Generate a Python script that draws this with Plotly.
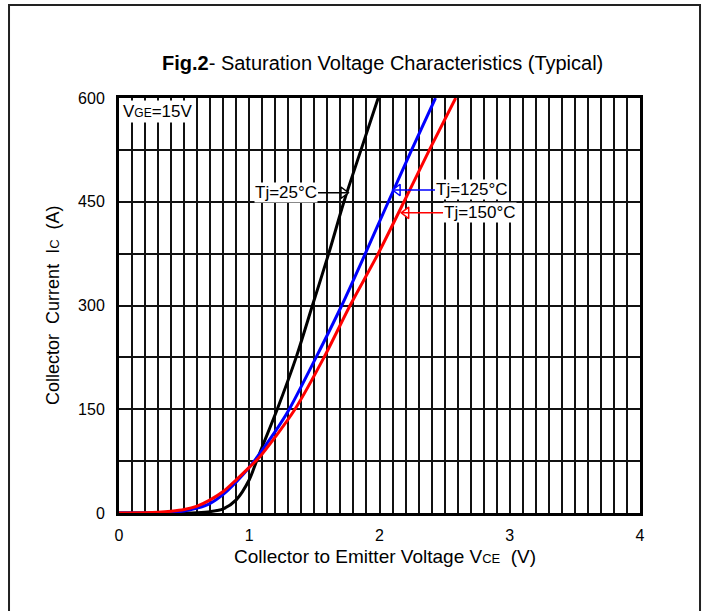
import plotly.graph_objects as go

# ---- data ----
v_25 = [0, 0.5, 0.6, 0.7, 0.8, 0.9, 1.0, 1.05, 1.1, 1.215, 1.36, 1.485, 1.61, 1.727, 1.858, 1.99]
i_25 = [0, 0, 0.5, 2, 6, 19, 48, 72, 96, 150, 225, 300, 375, 450, 525, 600]

v_125 = [0, 0.3, 0.4, 0.5, 0.6, 0.7, 0.8, 0.9, 1.0, 1.2, 1.307, 1.513, 1.71, 1.891, 2.068, 2.247, 2.43]
i_125 = [0, 0.3, 1, 3, 7, 14, 27, 45, 66, 118, 150, 225, 300, 375, 450, 525, 600]

v_150 = [0, 0.2, 0.3, 0.4, 0.5, 0.6, 0.7, 0.8, 0.9, 1.0, 1.08, 1.2, 1.351, 1.574, 1.774, 1.99, 2.188, 2.383, 2.585]
i_150 = [0, 0.3, 1, 2.5, 5, 10, 19, 31, 48, 66, 81, 110, 150, 225, 300, 375, 450, 525, 600]

x_ticks = [0, 1, 2, 3, 4]
y_ticks = [0, 150, 300, 450, 600]

label_text = ["Tj=25°C", "Tj=125°C", "Tj=150°C"]
label_tail_v = [1.528, 2.426, 2.488]
label_tip_v = [1.758, 2.104, 2.17]
label_i = [463, 467, 434]
label_color = ["black", "#0000ff", "#ff0000"]

FONT = "Liberation Sans, Arial, sans-serif"

fig = go.Figure()
for v, i, c in [(v_25, i_25, "black"), (v_125, i_125, "#0000ff"), (v_150, i_150, "#ff0000")]:
    fig.add_trace(go.Scatter(x=v, y=i, mode="lines",
                             line=dict(color=c, width=3, shape="spline", smoothing=0.8),
                             hoverinfo="skip", showlegend=False))

# label arrows
for t, tail, tip, yy, c in zip(label_text, label_tail_v, label_tip_v, label_i, label_color):
    direction = 1 if tip > tail else -1
    fig.add_shape(type="line", x0=tail, x1=tip, y0=yy, y1=yy, xref="x", yref="y",
                  line=dict(color=c, width=1.5))
    fig.add_trace(go.Scatter(x=[tip - direction * 0.035], y=[yy], mode="markers",
                             marker=dict(symbol="triangle-right" if direction > 0 else "triangle-left",
                                         size=10, color="white", line=dict(color=c, width=1.5)),
                             hoverinfo="skip", showlegend=False))
    fig.add_annotation(x=tail, y=yy, xref="x", yref="y", text=t, showarrow=False,
                       xanchor="right" if direction > 0 else "left", yanchor="middle",
                       bgcolor="white", borderpad=0,
                       font=dict(family=FONT, size=17, color="black"))

fig.add_annotation(x=0.004, y=0.994, xref="paper", yref="paper", xanchor="left", yanchor="top",
                   text="V<span style='font-size:12px'>GE</span>=15V", showarrow=False,
                   bgcolor="white", borderpad=1, font=dict(family=FONT, size=17, color="black"))

# titles
fig.add_annotation(x=0.505, y=1.084, xref="paper", yref="paper", showarrow=False,
                   xanchor="center", yanchor="middle",
                   text="<b>Fig.2</b>- Saturation Voltage Characteristics (Typical)",
                   font=dict(family=FONT, size=20, color="black"))
fig.add_annotation(x=0.511, y=-0.106, xref="paper", yref="paper", showarrow=False,
                   xanchor="center", yanchor="middle",
                   text="Collector to Emitter Voltage V<span style='font-size:13px'>CE</span>  (V)",
                   font=dict(family=FONT, size=19, color="black"))
fig.add_annotation(x=-0.127, y=0.501, xref="paper", yref="paper", showarrow=False, textangle=-90,
                   xanchor="center", yanchor="middle",
                   text="Collector  Current  I<span style='font-size:13px'>C</span>  (A)",
                   font=dict(family=FONT, size=18, color="black"))

# outer frame
fig.add_shape(type="rect", xref="paper", yref="paper", x0=-0.2111, x1=1.1152, y0=-0.4, y1=1.2241,
              line=dict(color="#222", width=2), layer="below")

fig.update_xaxes(range=[0, 4], tickvals=x_ticks, ticktext=[str(t) for t in x_ticks],
                 showgrid=True, gridcolor="#111", gridwidth=1.5,
                 minor=dict(dtick=0.1, tick0=0, showgrid=True, gridcolor="#111", gridwidth=1.5),
                 showline=True, linecolor="black", linewidth=3, mirror=True,
                 ticks="", ticklabelstandoff=6, zeroline=False,
                 tickfont=dict(family=FONT, size=16, color="black"))
fig.update_yaxes(range=[0, 600], tickvals=y_ticks, ticktext=[str(t) for t in y_ticks],
                 showgrid=True, gridcolor="#111", gridwidth=2,
                 minor=dict(dtick=75, tick0=0, showgrid=True, gridcolor="#111", gridwidth=2),
                 showline=True, linecolor="black", linewidth=3, mirror=True,
                 ticks="", ticklabelstandoff=8, zeroline=False,
                 tickfont=dict(family=FONT, size=16, color="black"))

fig.update_layout(width=708, height=611, margin=dict(l=119, r=68, t=98, b=98),
                  paper_bgcolor="white", plot_bgcolor="white", showlegend=False)

fig.write_html("out.html", config={"displayModeBar": False},
               post_script="document.body.style.margin='0';")
